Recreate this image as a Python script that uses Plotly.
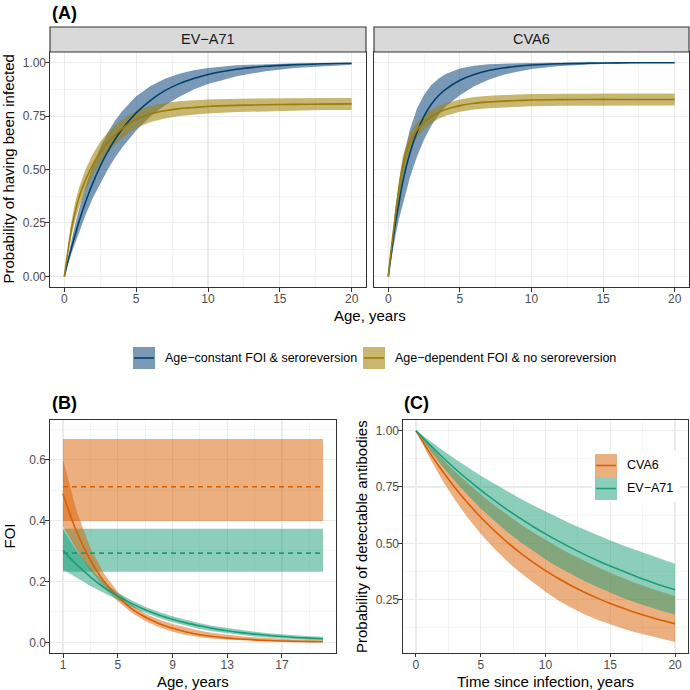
import plotly.graph_objects as go

# ---------------- DATA ----------------
# Panel A: probability of having been infected by age
age_a = [0, 0.25, 0.5, 0.75, 1, 1.5, 2, 2.5, 3, 3.5, 4, 5, 6, 7, 8, 9, 10, 12, 14, 16, 18, 20]

ev_const_mid = [0, .070, .135, .195, .252, .353, .440, .516, .581, .638, .687, .765, .824, .869, .902, .926, .945, .969, .983, .990, .995, .997]
ev_const_lo = [0, .056, .109, .158, .205, .292, .369, .437, .498, .553, .601, .683, .749, .800, .841, .874, .900, .937, .960, .975, .984, .990]
ev_const_hi = [0, .088, .169, .242, .309, .426, .523, .603, .670, .726, .772, .843, .891, .925, .948, .964, .975, .988, .994, .997, .999, .999]

ev_dep_mid = [0, .12, .225, .30, .365, .455, .525, .58, .625, .66, .69, .735, .76, .775, .785, .79, .795, .80, .803, .805, .806, .807]
ev_dep_lo = [0, .10, .19, .26, .32, .405, .475, .53, .578, .615, .645, .695, .722, .739, .75, .757, .762, .769, .773, .776, .778, .779]
ev_dep_hi = [0, .14, .26, .345, .41, .505, .575, .63, .672, .705, .733, .775, .798, .811, .82, .824, .828, .831, .833, .834, .835, .835]

cv_const_mid = [0, .13, .25, .345, .44, .575, .675, .75, .805, .845, .875, .918, .945, .963, .975, .983, .989, .995, .998, .999, 1.0, 1.0]
cv_const_lo = [0, .10, .19, .27, .34, .46, .56, .64, .705, .755, .795, .848, .89, .92, .942, .958, .97, .984, .992, .996, .998, .999]
cv_const_hi = [0, .17, .32, .44, .54, .685, .785, .85, .895, .925, .947, .973, .986, .993, .996, .998, .999, 1.0, 1.0, 1.0, 1.0, 1.0]

cv_dep_mid = [0, .155, .29, .41, .515, .63, .685, .722, .748, .767, .781, .799, .81, .816, .82, .823, .825, .827, .828, .828, .828, .828]
cv_dep_lo = [0, .13, .255, .37, .47, .59, .65, .69, .717, .737, .752, .77, .781, .787, .791, .794, .796, .798, .799, .8, .8, .8]
cv_dep_hi = [0, .18, .325, .45, .56, .67, .72, .755, .78, .797, .81, .828, .839, .845, .849, .851, .853, .855, .856, .856, .856, .856]

# Panel B: force of infection by age
age_b = [1, 2, 3, 4, 5, 6, 7, 8, 9, 10, 11, 12, 13, 14, 15, 16, 17, 18, 19, 20]
foi_const_cv = [0.511, 0.398, 0.668]   # median, lower, upper
foi_const_ev = [0.293, 0.232, 0.373]
foi_cv_mid = [.488, .363, .27, .20, .15, .111, .083, .062, .046, .034, .025, .019, .014, .011, .008, .006, .0045, .0033, .0025, .002]
foi_cv_lo = [.38, .305, .235, .18, .135, .098, .07, .05, .035, .024, .017, .012, .008, .006, .004, .003, .002, .0015, .001, .001]
foi_cv_hi = [.60, .43, .31, .225, .165, .125, .095, .075, .06, .048, .038, .031, .025, .02, .017, .014, .011, .009, .008, .007]
foi_ev_mid = [.302, .255, .215, .18, .152, .128, .107, .09, .076, .064, .054, .045, .038, .032, .027, .023, .019, .016, .014, .012]
foi_ev_lo = [.24, .212, .185, .161, .14, .117, .097, .08, .066, .054, .044, .036, .03, .024, .019, .016, .013, .01, .008, .007]
foi_ev_hi = [.37, .30, .245, .198, .163, .138, .117, .10, .086, .074, .063, .054, .047, .041, .035, .03, .026, .023, .02, .018]

# Panel C: probability of detectable antibodies by time since infection
time_c = [0, 1, 2, 3, 4, 5, 6, 7, 8, 9, 10, 11, 12, 13, 14, 15, 16, 17, 18, 19, 20]
ab_cv_mid = [1.0, .908, .824, .748, .679, .616, .559, .507, .46, .418, .379, .344, .312, .283, .257, .233, .212, .192, .174, .158, .144]
ab_cv_lo = [1.0, .885, .783, .693, .613, .542, .479, .423, .373, .329, .285, .247, .214, .186, .161, .14, .121, .105, .09, .076, .063]
ab_cv_hi = [1.0, .936, .876, .819, .767, .717, .671, .628, .588, .55, .515, .482, .451, .422, .395, .369, .345, .323, .303, .283, .265]
ab_ev_mid = [1.0, .941, .885, .832, .783, .736, .693, .651, .613, .576, .542, .51, .48, .451, .424, .399, .376, .353, .332, .312, .294]
ab_ev_lo = [1.0, .919, .844, .776, .713, .655, .602, .553, .508, .467, .429, .394, .362, .333, .306, .281, .258, .237, .218, .20, .184]
ab_ev_hi = [1.0, .956, .915, .875, .837, .80, .766, .732, .70, .67, .641, .613, .586, .561, .536, .513, .49, .469, .449, .429, .41]

# ---------------- STYLE ----------------
FONT = "Liberation Sans, Arial, sans-serif"
BLUE_L, BLUE_F = "#00416E", "rgba(25,80,130,0.58)"
GOLD_L, GOLD_F = "#9A7D0A", "rgba(160,130,10,0.58)"
ORG_L, ORG_F = "#D95F02", "rgba(217,95,2,0.5)"
TEAL_L, TEAL_F = "#1B9E77", "rgba(27,158,119,0.5)"
GRID = "#EBEBEB"
W = H = 690


def px(p):
    return p / W


def py(p):
    return 1 - p / H


fig = go.Figure()


def ribbon(x, lo, hi, color, xa, ya):
    fig.add_trace(go.Scatter(x=list(x) + list(x)[::-1], y=list(hi) + list(lo)[::-1],
                             fill="toself", fillcolor=color, line=dict(width=0),
                             mode="lines", hoverinfo="skip", showlegend=False,
                             xaxis=xa, yaxis=ya))


def line(x, y, color, xa, ya, dash="solid", shape="spline"):
    fig.add_trace(go.Scatter(x=x, y=y, mode="lines",
                             line=dict(color=color, width=1.6, dash=dash, shape=shape),
                             hoverinfo="skip", showlegend=False, xaxis=xa, yaxis=ya))


# Panel A
for (xa, ya, cm, cl, ch, dm, dl, dh) in [
        ("x", "y", ev_const_mid, ev_const_lo, ev_const_hi, ev_dep_mid, ev_dep_lo, ev_dep_hi),
        ("x2", "y2", cv_const_mid, cv_const_lo, cv_const_hi, cv_dep_mid, cv_dep_lo, cv_dep_hi)]:
    ribbon(age_a, cl, ch, BLUE_F, xa, ya)
    ribbon(age_a, dl, dh, GOLD_F, xa, ya)
    line(age_a, cm, BLUE_L, xa, ya)
    line(age_a, dm, GOLD_L, xa, ya)

# Panel B
n_b = len(age_b)
ribbon(age_b, [foi_const_cv[1]] * n_b, [foi_const_cv[2]] * n_b, ORG_F, "x3", "y3")
ribbon(age_b, [foi_const_ev[1]] * n_b, [foi_const_ev[2]] * n_b, TEAL_F, "x3", "y3")
ribbon(age_b, foi_cv_lo, foi_cv_hi, ORG_F, "x3", "y3")
ribbon(age_b, foi_ev_lo, foi_ev_hi, TEAL_F, "x3", "y3")
line(age_b, [foi_const_cv[0]] * n_b, ORG_L, "x3", "y3", dash="5px,4px", shape="linear")
line(age_b, [foi_const_ev[0]] * n_b, TEAL_L, "x3", "y3", dash="5px,4px", shape="linear")
line(age_b, foi_cv_mid, ORG_L, "x3", "y3")
line(age_b, foi_ev_mid, TEAL_L, "x3", "y3")

# Panel C
ribbon(time_c, ab_cv_lo, ab_cv_hi, ORG_F, "x4", "y4")
ribbon(time_c, ab_ev_lo, ab_ev_hi, TEAL_F, "x4", "y4")
line(time_c, ab_cv_mid, ORG_L, "x4", "y4")
line(time_c, ab_ev_mid, TEAL_L, "x4", "y4")

# ---------------- AXES ----------------
tickfont = dict(family=FONT, size=12, color="#4D4D4D")


def axis(domain, rng, tick0, dtick, mdtick, fmt=None, labels=True, ticks="outside", anchor=None):
    d = dict(domain=domain, range=rng, tickmode="linear", tick0=tick0, dtick=dtick,
             showgrid=True, gridcolor=GRID, gridwidth=1.1, zeroline=False,
             showline=True, mirror=True, linecolor="#333333", linewidth=1.1,
             ticks=ticks, ticklen=3.5, tickwidth=1, tickcolor="#333333",
             tickfont=tickfont, showticklabels=labels, ticklabelstandoff=-3,
             minor=dict(tick0=tick0, dtick=mdtick, showgrid=True, gridcolor=GRID, gridwidth=0.55, ticks=""))
    if fmt:
        d["tickformat"] = fmt
    if anchor:
        d["anchor"] = anchor
    return d


fig.update_layout(
    width=W, height=H, margin=dict(l=0, r=0, t=0, b=0),
    paper_bgcolor="white", plot_bgcolor="white", showlegend=False,
    font=dict(family=FONT, color="black"),
    xaxis=axis([px(50), px(366)], [-1, 21], 0, 5, 2.5, anchor="y"),
    yaxis=axis([py(287), py(52)], [-0.05, 1.05], 0, 0.25, 0.125, fmt=".2f", anchor="x"),
    xaxis2=axis([px(374), px(689)], [-1, 21], 0, 5, 2.5, anchor="y2"),
    yaxis2=axis([py(287), py(52)], [-0.05, 1.05], 0, 0.25, 0.125, labels=False, ticks="", anchor="x2"),
    xaxis3=axis([px(50), px(336)], [0.05, 20.95], 1, 4, 2, anchor="y3"),
    yaxis3=axis([py(653), py(420)], [-0.035, 0.73], 0, 0.2, 0.1, fmt=".1f", anchor="x3"),
    xaxis4=axis([px(403), px(688)], [-1, 21], 0, 5, 2.5, anchor="y4"),
    yaxis4=axis([py(652.7), py(420)], [0.015, 1.047], 0, 0.25, 0.125, fmt=".2f", anchor="x4"),
)

shapes = []
annotations = []


def text(x, y, s, size, angle=0, xanchor="center", bold=False, color="black"):
    annotations.append(dict(x=px(x), y=py(y), xref="paper", yref="paper", text=f"<b>{s}</b>" if bold else s,
                            showarrow=False, textangle=angle, xanchor=xanchor, yanchor="middle",
                            font=dict(family=FONT, size=size, color=color)))


# strips
for (x0, x1, lab) in [(50, 366, "EV−A71"), (374, 689, "CVA6")]:
    shapes.append(dict(type="rect", xref="paper", yref="paper", x0=px(x0), x1=px(x1), y0=py(52), y1=py(27),
                       fillcolor="#D9D9D9", line=dict(color="#333333", width=1.1), layer="above"))
    text((x0 + x1) / 2, 39.5, lab, 14.5, color="#1A1A1A")

# tags
text(50, 13, "(A)", 18, xanchor="left", bold=True)
text(50, 403, "(B)", 18, xanchor="left", bold=True)
text(402, 403, "(C)", 18, xanchor="left", bold=True)

# axis titles
text(8, 169.5, "Probability of having been infected", 15, angle=-90)
text(369.5, 315, "Age, years", 15)
text(9, 536.5, "FOI", 15, angle=-90)
text(193, 681.5, "Age, years", 15)
text(361.5, 536.5, "Probability of detectable antibodies", 15, angle=-90)
text(545.5, 681.5, "Time since infection, years", 15)


def key(x0, x1, y0, y1, fill, lc):
    shapes.append(dict(type="rect", xref="paper", yref="paper", x0=px(x0), x1=px(x1), y0=py(y1), y1=py(y0),
                       fillcolor=fill, line=dict(width=0)))
    shapes.append(dict(type="line", xref="paper", yref="paper", x0=px(x0 + 1), x1=px(x1 - 1),
                       y0=py((y0 + y1) / 2), y1=py((y0 + y1) / 2), line=dict(color=lc, width=1.6)))


# legend panel A
key(133, 155, 347, 369, BLUE_F, BLUE_L)
text(163, 358, "Age−constant FOI & seroreversion", 12.5, xanchor="left")
key(363, 385, 347, 369, GOLD_F, GOLD_L)
text(393, 358, "Age−dependent FOI & no seroreversion", 12.5, xanchor="left")

# legend panel C
shapes.append(dict(type="rect", xref="paper", yref="paper", x0=px(592), x1=px(680), y0=py(502), y1=py(451),
                   fillcolor="white", line=dict(width=0)))
key(595, 617, 454, 477, ORG_F, ORG_L)
text(625, 465.5, "CVA6", 12.5, xanchor="left")
key(595, 617, 477, 500, TEAL_F, TEAL_L)
text(625, 488.5, "EV−A71", 12.5, xanchor="left")

fig.update_layout(shapes=shapes, annotations=annotations)
fig.write_html("out.html", config={"displayModeBar": False, "staticPlot": True},
               post_script="document.body.style.margin='0px';document.body.style.padding='0px';")
